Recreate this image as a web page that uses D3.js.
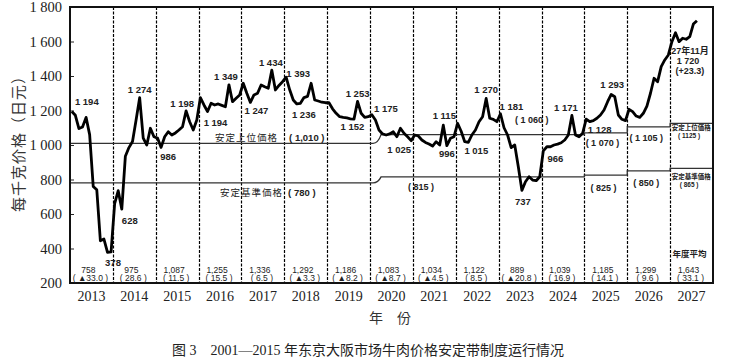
<!DOCTYPE html>
<html><head><meta charset="utf-8">
<script src="https://cdn.jsdelivr.net/npm/d3@7/dist/d3.min.js"></script>
<style>body{margin:0;background:#fff}svg{display:block}</style>
</head><body><svg id="c" width="739" height="360"></svg>
<script>
// ---------------- data ----------------
const years = [2013,2014,2015,2016,2017,2018,2019,2020,2021,2022,2023,2024,2025,2026,2027];
const yTicks = [200,400,600,800,1000,1200,1400,1600,1800];
// monthly wholesale price (yen/kg), fiscal months Apr..Mar, last = Nov 2027
const monthlyPrices = [
  1194,1172,1095,1105,1160,1060,760,740,445,455,378,380,
  660,735,628,935,985,1020,1145,1274,1040,1000,1097,1048,
  1040,986,1048,1077,1058,1070,1087,1106,1198,1135,1087,1145,
  1274,1232,1194,1242,1232,1238,1230,1222,1349,1251,1271,1290,
  1358,1300,1247,1290,1300,1348,1338,1329,1434,1319,1345,1367,
  1393,1320,1261,1238,1242,1275,1282,1358,1261,1255,1248,1245,
  1245,1210,1184,1164,1160,1157,1152,1150,1253,1184,1160,1164,
  1175,1145,1087,1064,1058,1064,1077,1048,1097,1068,1048,1025,
  1058,1052,1029,1015,1006,994,1019,1000,1115,996,1039,1048,
  1126,1080,1019,1015,1058,1087,1135,1164,1270,1155,1149,1135,
  1181,1100,1058,985,1000,874,737,787,816,797,793,816,
  966,990,990,1000,1005,1013,1029,1058,1171,1058,1048,1068,
  1150,1135,1141,1155,1174,1203,1251,1293,1280,1174,1149,1141,
  1207,1193,1168,1160,1184,1226,1300,1387,1367,1454,1493,1522,
  1599,1651,1599,1619,1613,1628,1701,1720
];
const upperPrices = [1010,1010,1010,1010,1010,1010,1010,1060,1060,1060,1060,1060,1070,1105,1125];
const lowerPrices = [780,780,780,780,780,780,780,815,815,815,815,815,825,850,865];
const annualAvg = [758,975,1087,1255,1336,1292,1186,1083,1034,1122,889,1039,1185,1299,1643];
const annualChange = [-33.0,28.6,11.5,15.5,6.5,-3.3,-8.2,-8.7,-4.5,8.5,-20.8,16.9,14.1,9.6,33.1];
// point annotations: month index and printed value
const annotIdx = [0,10,14,19,25,32,38,44,50,56,60,63,78,80,84,95,104,105,111,116,120,126,132,140,145,151];
const annotVal = [1194,378,628,1274,986,1198,1194,1349,1247,1434,1393,1236,1152,1253,1175,1025,1115,996,1015,1270,1181,737,966,1171,1128,1293];
const lastLabel = ["27年11月", "1 720", "(+23.3)"];
// band labels: year index, price
const bandLabelYear = [3,3,8,10,12,12,13,13,14,14];
const bandLabelName = ["安定上位価格","安定基準価格","","","","","","","安定上位価格","安定基準価格"];
const bandLabelPrice = [1010,780,815,1060,1070,825,1105,850,1125,865];
const yTitle = "每千克价格（日元）";
const xTitle = "年　份";
const caption = "图 3　2001—2015 年东京大阪市场牛肉价格安定带制度运行情况";

// ---------------- layout ----------------
const L = 70, R = 713, T = 7, B = 283;
const annotOffsets = [[15,-9.5],[5.5,10.5],[8,12],[0,-8],[7,9],[-4,-7],[8,11.5],[-3,-8],[6,8.6],[-1,-7],[12,-4],[7,11],
  [2,8],[0,-8],[14,-6],[-12,9],[1,-9],[0,8],[8,8],[0,-9],[11,-7],[1,11],[12,8],[-6,-8],[10,7.5],[1,-9.5]];
const bandLabelOffsets = [[16.5,-6],[21.5,10],[8,10],[33,-15],[18,10],[19,13],[19,11],[19,12],[21,4],[21,8]];

const svg = d3.select("#c");
const x = d3.scaleBand().domain(years).range([L, R]).paddingInner(0).paddingOuter(0);
const bw = x.bandwidth();
const y = d3.scaleLinear().domain([200, 1800]).range([B, T]);
const mx = i => x(years[Math.floor(i/12)]) + ((i%12) + 0.5) * bw / 12;

const sans = "'Liberation Sans', Arial, 'DejaVu Sans', 'Noto Sans CJK JP', sans-serif";
const serif = "'Liberation Serif', 'Times New Roman', 'Noto Sans CJK SC', serif";
const cjk = "'Noto Sans CJK JP', 'Noto Sans CJK SC', sans-serif";

// year dividers
svg.append("g").selectAll("line").data(years.slice(1)).join("line")
  .attr("x1", d => Math.round(x(d)) + 0.5).attr("x2", d => Math.round(x(d)) + 0.5)
  .attr("y1", T).attr("y2", B)
  .attr("stroke", "#000").attr("stroke-width", 1.2).attr("stroke-dasharray", "3,1.5");

// band lines
function bandPath(arr) {
  const p = d3.path();
  arr.forEach((v, k) => {
    const x0 = x(years[k]), x1 = x0 + bw;
    if (k === 0) p.moveTo(x0, y(v));
    else if (arr[k-1] !== v && k === 7) {
      p.lineTo(x0 + 3, y(arr[k-1]));
      p.quadraticCurveTo(x0 + 8, y(arr[k-1]), x0 + 11, y(v));
    } else p.lineTo(x0, y(v));
    p.lineTo(x1, y(v));
  });
  return p.toString();
}
[upperPrices, lowerPrices].forEach(arr => {
  svg.append("path").attr("d", bandPath(arr)).attr("fill", "none")
    .attr("stroke", "#333").attr("stroke-width", 1.3);
});

// y axis
const yAxis = svg.append("g").attr("transform", `translate(${L},0)`)
  .call(d3.axisLeft(y).tickValues(yTicks).tickSize(-4).tickPadding(8)
    .tickFormat(d => d3.format(",")(d).replace(",", " ")));
yAxis.select(".domain").remove();
yAxis.selectAll("line").attr("stroke", "#222");
yAxis.selectAll("text").attr("font-family", serif).attr("font-size", 14.5).attr("fill", "#222");

// x axis labels
const xAxis = svg.append("g").attr("transform", `translate(0,${B})`)
  .call(d3.axisBottom(x).tickSize(0).tickPadding(8));
xAxis.select(".domain").remove();
xAxis.selectAll("text").attr("font-family", serif).attr("font-size", 14).attr("fill", "#222");

// price line
svg.append("path").datum(monthlyPrices)
  .attr("d", d3.line().x((d, i) => mx(i)).y(d => y(d)))
  .attr("fill", "none").attr("stroke", "#000").attr("stroke-width", 2.8)
  .attr("stroke-linejoin", "round");

// frame
svg.append("rect").attr("x", L).attr("y", T).attr("width", R - L).attr("height", B - T)
  .attr("fill", "none").attr("stroke", "#111").attr("stroke-width", 2);

// point annotations
const fmtSp = v => d3.format(",")(v).replace(",", " ");
svg.append("g").selectAll("text").data(annotIdx).join("text")
  .attr("x", (d, k) => mx(d) + annotOffsets[k][0])
  .attr("y", (d, k) => y(monthlyPrices[d]) + annotOffsets[k][1])
  .attr("dy", "0.35em").attr("text-anchor", "middle")
  .attr("font-family", sans).attr("font-size", 9.5).attr("font-weight", "bold").attr("fill", "#222")
  .text((d, k) => fmtSp(annotVal[k]));

const li = monthlyPrices.length - 1;
svg.append("g").selectAll("text").data(lastLabel).join("text")
  .attr("x", (d, k) => mx(li) - 7 + (k === 1 ? -2 : 0))
  .attr("y", (d, k) => y(monthlyPrices[li]) + 30 + k * 10)
  .attr("dy", "0.35em").attr("text-anchor", "middle")
  .attr("font-family", sans).attr("font-size", 9).attr("font-weight", "bold").attr("fill", "#222")
  .text(d => d);

// band labels
const bl = svg.append("g");
bandLabelYear.forEach((yi, k) => {
  const x0 = x(years[yi]);
  const yy = y(bandLabelPrice[k]);
  const [dx, dy] = bandLabelOffsets[k];
  const name = bandLabelName[k];
  if (yi === 14) {
    bl.append("text").attr("x", x0 + dx).attr("y", yy + dy).attr("dy", "0.35em")
      .attr("text-anchor", "middle").attr("font-family", cjk).attr("font-size", 6.5)
      .attr("font-weight", "bold").attr("fill", "#222").text(name);
    bl.append("text").attr("x", x0 + dx - 2).attr("y", yy + dy + 8).attr("dy", "0.35em")
      .attr("text-anchor", "middle").attr("font-family", sans).attr("font-size", 6.5)
      .attr("font-weight", "bold").attr("fill", "#222").text("( " + bandLabelPrice[k] + " )");
  } else if (name) {
    const t = bl.append("text").attr("x", x0 + dx).attr("y", yy + dy).attr("dy", "0.35em")
      .attr("font-family", cjk).attr("font-size", 9.5).attr("fill", "#222");
    t.append("tspan").attr("letter-spacing", 1).text(name);
    t.append("tspan").attr("font-family", sans).attr("font-weight", "bold").attr("font-size", 9.5)
      .attr("dx", bandLabelPrice[k] >= 1000 ? 11 : 5)
      .text(bandLabelPrice[k] >= 1000 ? "( " + d3.format(",")(bandLabelPrice[k]) + " )" : "( " + bandLabelPrice[k] + " )");
  } else {
    bl.append("text").attr("x", x0 + dx).attr("y", yy + dy).attr("dy", "0.35em")
      .attr("text-anchor", "middle").attr("font-family", sans).attr("font-size", 9)
      .attr("font-weight", "bold").attr("fill", "#222")
      .text("( " + fmtSp(bandLabelPrice[k]) + " )");
  }
});

// annual averages
const fmtAvg = d3.format(",");
const fmtChg = v => "( " + (v < 0 ? "▲" : "") + Math.abs(v).toFixed(1) + " )";
const ann = svg.append("g").attr("font-family", sans).attr("fill", "#222").attr("text-anchor", "middle");
ann.selectAll("text.a").data(annualAvg).join("text").attr("class", "a")
  .attr("x", (d, k) => x(years[k]) + bw / 2 - 3).attr("y", 270).attr("dy", "0.35em")
  .attr("font-size", 8.5).text(d => fmtAvg(d));
ann.selectAll("text.c").data(annualChange).join("text").attr("class", "c")
  .attr("x", (d, k) => x(years[k]) + bw / 2 - 1).attr("y", 278.5).attr("dy", "0.35em")
  .attr("font-size", 8.5).text(d => fmtChg(d));
ann.append("text").attr("x", x(2027) + bw / 2 - 2).attr("y", 254).attr("dy", "0.35em")
  .attr("font-family", cjk).attr("font-size", 8.5).attr("font-weight", "bold").text("年度平均");

// titles
svg.append("text").attr("transform", "translate(19,140) rotate(-90)")
  .attr("text-anchor", "middle").attr("dy", "0.35em")
  .attr("font-family", cjk).attr("font-size", 15).attr("fill", "#333").attr("letter-spacing", 1)
  .text(yTitle);
svg.append("text").attr("x", 390).attr("y", 318).attr("dy", "0.35em").attr("text-anchor", "middle")
  .attr("font-family", cjk).attr("font-size", 14).attr("fill", "#333").text(xTitle);
svg.append("text").attr("x", 368).attr("y", 350).attr("dy", "0.35em").attr("text-anchor", "middle")
  .attr("font-family", serif).attr("font-size", 14).attr("fill", "#222").text(caption);
</script></body></html>
